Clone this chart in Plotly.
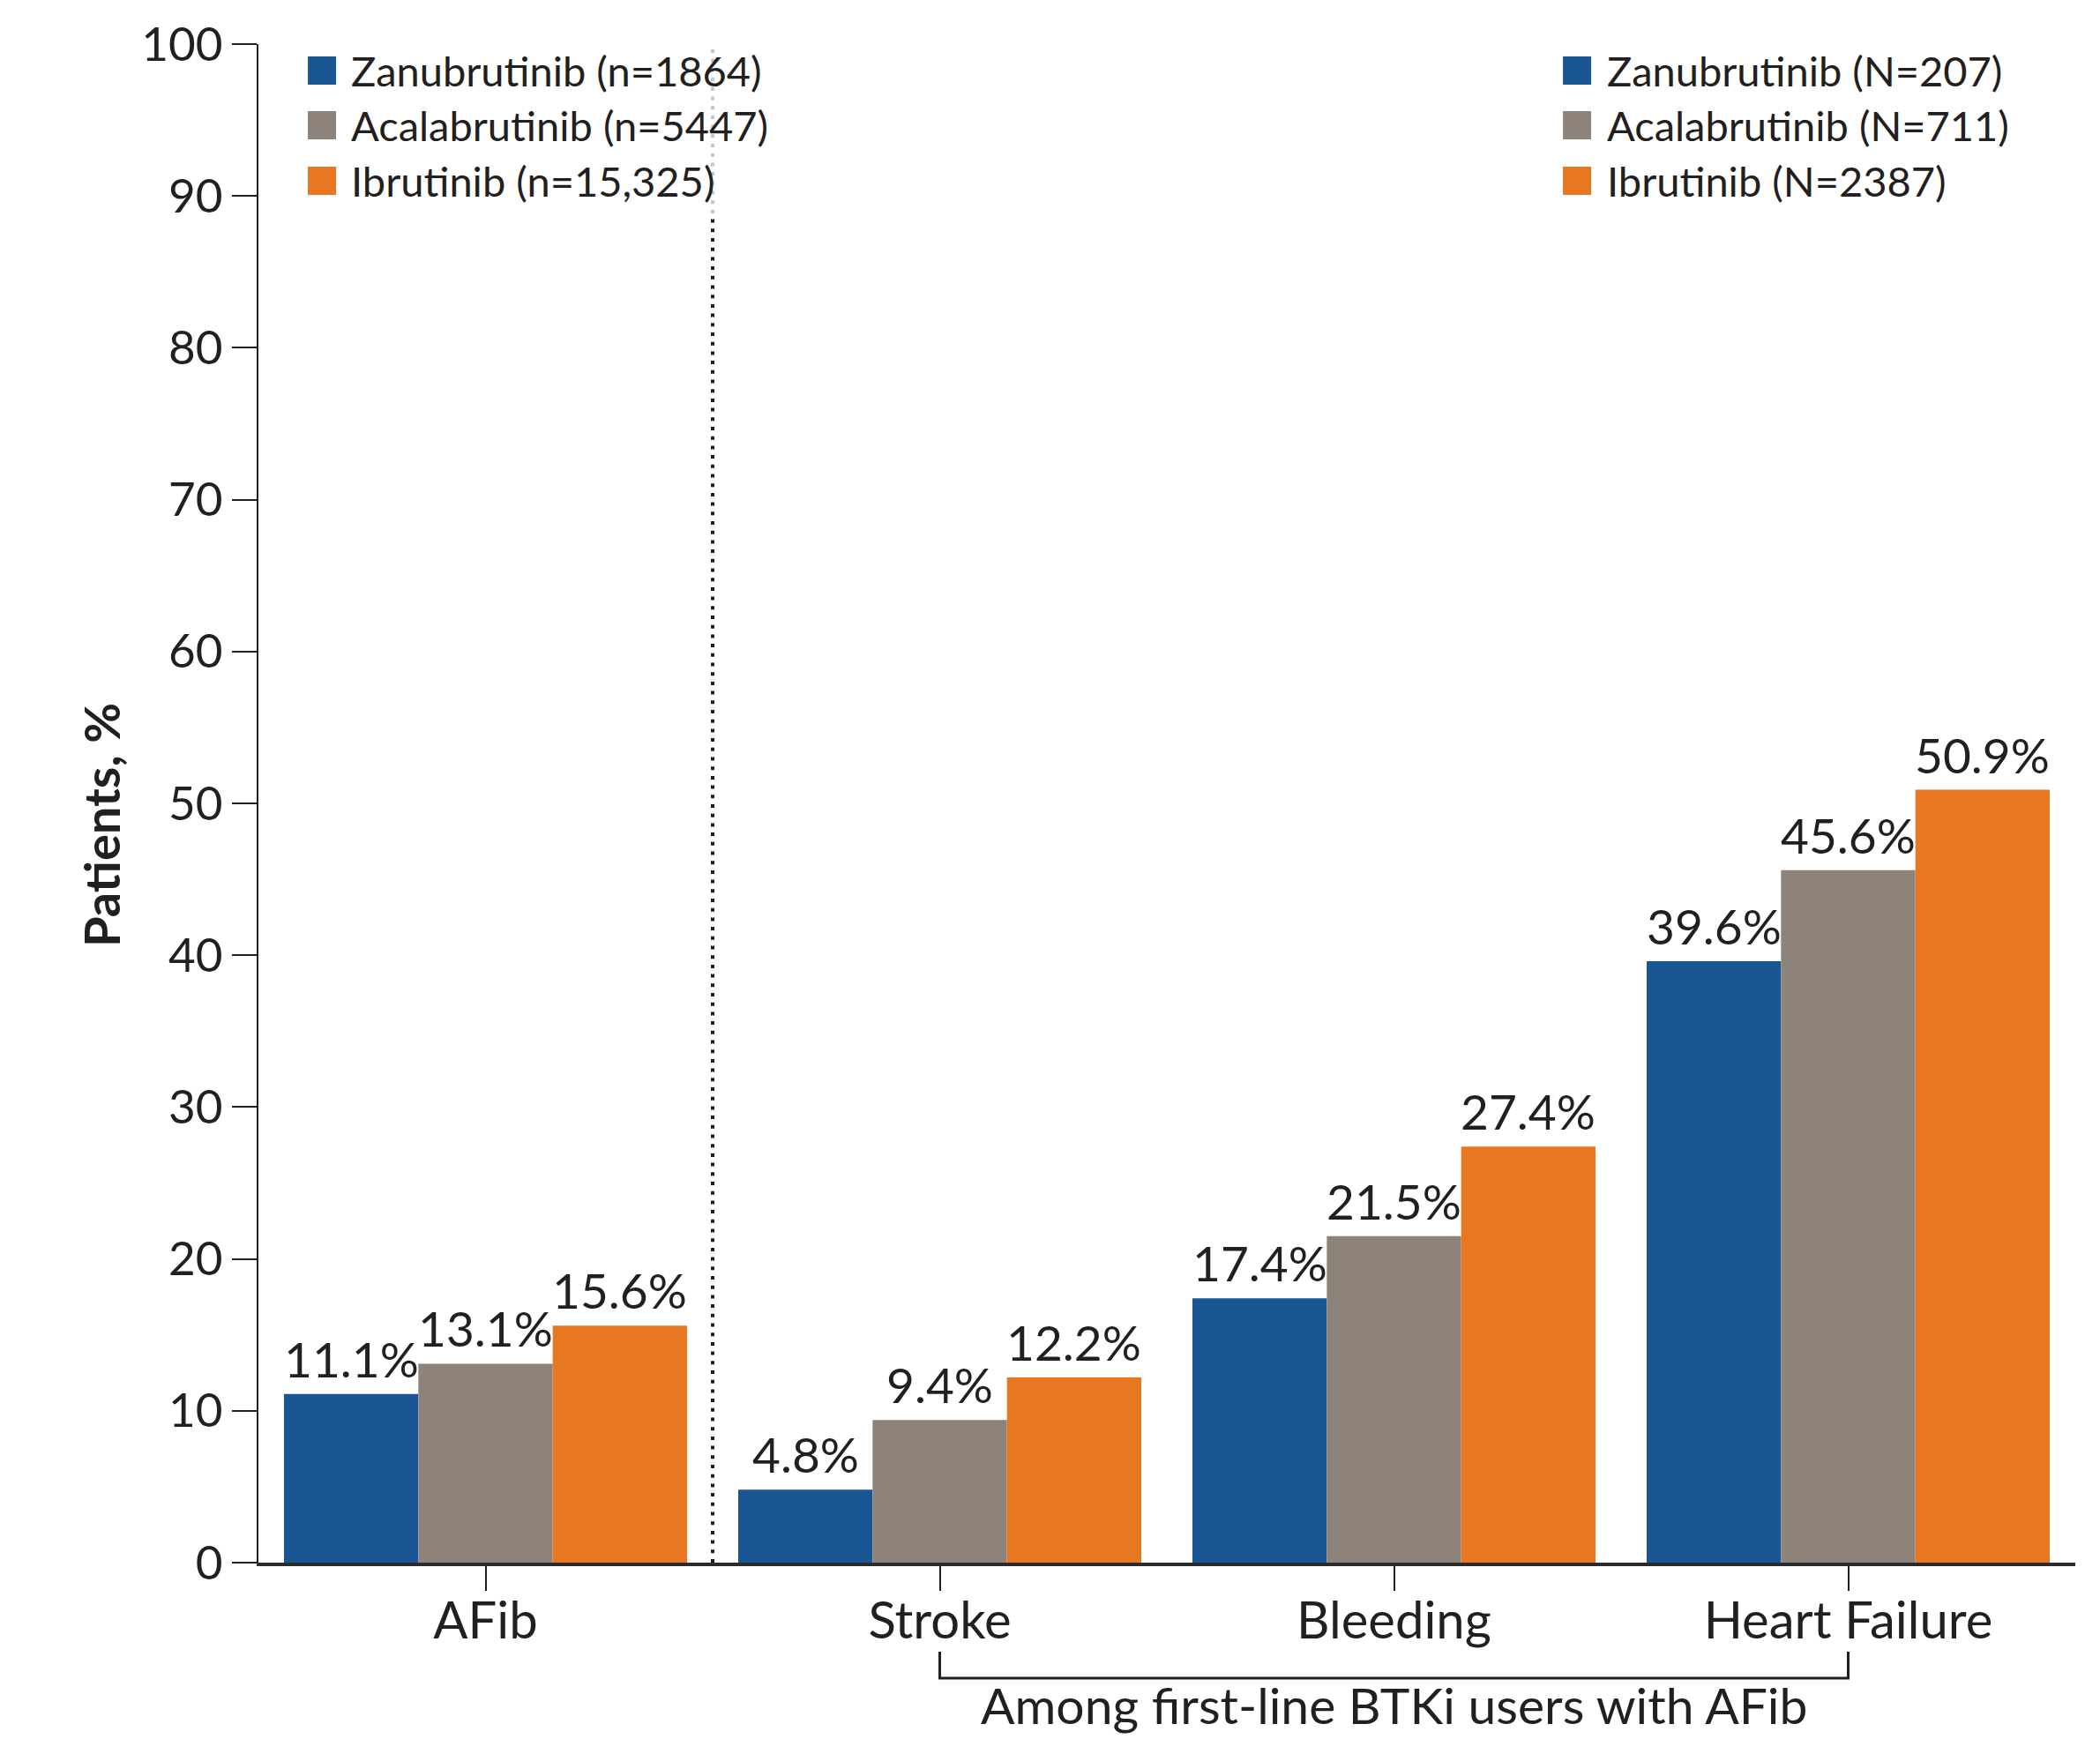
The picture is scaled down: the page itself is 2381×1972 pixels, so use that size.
import plotly.graph_objects as go

# ---- data -------------------------------------------------------------
categories = ["AFib", "Stroke", "Bleeding", "Heart Failure"]
drugs = ["Zanubrutinib", "Acalabrutinib", "Ibrutinib"]
afib_cohort_n = ["1864", "5447", "15,325"]       # all BTKi users
firstline_afib_n = ["207", "711", "2387"]        # first-line users with AFib

zanubrutinib = [11.1, 4.8, 17.4, 39.6]
acalabrutinib = [13.1, 9.4, 21.5, 45.6]
ibrutinib = [15.6, 12.2, 27.4, 50.9]

y_ticks = list(range(0, 101, 10))
bracket_note = "Among first-line BTKi users with AFib"

# ---- style ------------------------------------------------------------
colors = ["#1B5694", "#8D837A", "#E87722"]
ink = "#231F20"
font_family = "Lato"
bar_gap = 0.1126
bar_w = (1 - bar_gap) / len(drugs)

series_values = [zanubrutinib, acalabrutinib, ibrutinib]

fig = go.Figure()
annotations = []

for k, (name, vals, col) in enumerate(zip(drugs, series_values, colors)):
    xs = [i + (k - 1) * bar_w for i in range(len(categories))]
    fig.add_trace(go.Bar(
        x=xs, y=vals, width=bar_w, name=name,
        marker=dict(color=col, line=dict(width=0)),
        showlegend=False, hoverinfo="skip",
    ))
    for x, v in zip(xs, vals):
        annotations.append(dict(
            x=x, y=v, xref="x", yref="y", text=f"{v:.1f}%",
            showarrow=False, xanchor="center", yanchor="bottom", yshift=5,
            font=dict(family=font_family, size=55, color=ink),
        ))

# two hand-built legends (left: whole cohort, right: first-line AFib users)
row_y = [0.9826, 0.9466, 0.9100]
legend_specs = [
    (0.0272, 0.0500, "n", afib_cohort_n),
    (0.7180, 0.7413, "N", firstline_afib_n),
]
shapes = []

# dotted separator between AFib and the first-line subgroup
shapes.append(dict(
    type="line", xref="x", yref="y", x0=0.5, x1=0.5, y0=0, y1=100,
    line=dict(color=ink, width=4, dash="4px,6.7px"), layer="above",
))
# translucent backing behind the left legend
shapes.append(dict(
    type="rect", xref="paper", yref="paper", x0=0.02, x1=0.29, y0=0.885, y1=1.005,
    fillcolor="rgba(255,255,255,0.75)", line=dict(width=0), layer="above",
))

sq = 32 / 2060  # legend swatch width in paper units
sq_h = 32 / 1722
for sx, tx, letter, counts in legend_specs:
    for name, n, col, yy in zip(drugs, counts, colors, row_y):
        shapes.append(dict(
            type="rect", xref="paper", yref="paper",
            x0=sx, x1=sx + sq, y0=yy - sq_h / 2, y1=yy + sq_h / 2,
            fillcolor=col, line=dict(width=0), layer="above",
        ))
        annotations.append(dict(
            x=tx, y=yy, xref="paper", yref="paper",
            text=f"{name} ({letter}={n})", showarrow=False,
            xanchor="left", yanchor="middle",
            font=dict(family=font_family, size=47, color=ink),
        ))

# bracket under Stroke .. Heart Failure
b_top, b_bot = -0.0587, -0.0761
shapes.append(dict(
    type="path", xref="x", yref="paper",
    path=f"M 1,{b_top} L 1,{b_bot} L 3,{b_bot} L 3,{b_top}",
    line=dict(color=ink, width=3),
))
annotations.append(dict(
    x=2, y=-0.0935, xref="x", yref="paper", text=bracket_note,
    showarrow=False, xanchor="center", yanchor="middle",
    font=dict(family=font_family, size=57, color=ink),
))

# y-axis title
annotations.append(dict(
    x=-0.0864, y=0.4855, xref="paper", yref="paper", text="<b>Patients, %</b>",
    showarrow=False, textangle=-90, xanchor="center", yanchor="middle",
    font=dict(family=font_family, size=56, color=ink),
))

fig.update_layout(
    width=2381, height=1972,
    margin=dict(l=293, r=28, t=50, b=200),
    paper_bgcolor="white", plot_bgcolor="white",
    barmode="overlay",
    shapes=shapes, annotations=annotations,
    font=dict(family=font_family, color=ink),
)
fig.update_xaxes(
    range=[-0.5, 3.5], tickmode="array",
    tickvals=list(range(len(categories))), ticktext=categories,
    ticks="outside", ticklen=28, tickwidth=2, tickcolor=ink,
    ticklabelstandoff=-16,
    showline=True, linewidth=4, linecolor="#2B2B2B",
    showgrid=False, zeroline=False,
    tickfont=dict(family=font_family, size=58, color=ink),
)
fig.update_yaxes(
    range=[0, 100], tickmode="array", tickvals=y_ticks,
    ticks="outside", ticklen=28, tickwidth=2, tickcolor=ink,
    showline=True, linewidth=2, linecolor=ink,
    showgrid=False, zeroline=False,
    tickfont=dict(family=font_family, size=53, color=ink),
)

fig.write_html("out.html")
